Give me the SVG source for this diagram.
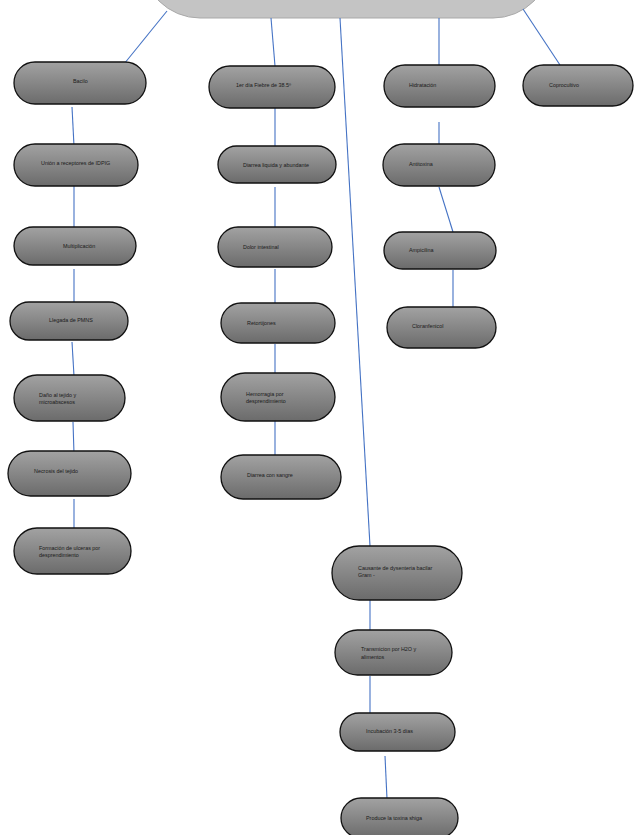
<svg xmlns="http://www.w3.org/2000/svg" width="634" height="835" viewBox="0 0 634 835">
<defs>
<linearGradient id="g" x1="0" y1="0" x2="0" y2="1">
<stop offset="0" stop-color="#a2a2a2"/>
<stop offset="1" stop-color="#6b6b6b"/>
</linearGradient>
<style>
.n{fill:url(#g);stroke:#111;stroke-width:1.3}
.t{font-family:"Liberation Sans",Arial,sans-serif;font-size:5.4px;fill:#1a1a1a}
.c line{stroke:#4472c4;stroke-width:1.1}
</style>
</defs>
<rect width="634" height="835" fill="#fff"/>
<g id="top"><rect x="142" y="-100" width="409" height="118" rx="58" fill="#c4c4c4" stroke="#a9a9a9" stroke-width="1"/></g>
<g class="c" id="connectors">
<line x1="167" y1="11" x2="124" y2="64"/>
<line x1="271" y1="18" x2="275" y2="66"/>
<line x1="340" y1="18" x2="370" y2="546"/>
<line x1="439" y1="18" x2="439" y2="70"/>
<line x1="523" y1="9" x2="560" y2="65"/>
<line x1="72" y1="107" x2="74" y2="146"/>
<line x1="74" y1="186" x2="74" y2="231"/>
<line x1="74" y1="269" x2="74" y2="302"/>
<line x1="72" y1="342" x2="74" y2="376"/>
<line x1="73" y1="422" x2="74" y2="454"/>
<line x1="74" y1="499" x2="74" y2="530"/>
<line x1="275" y1="108" x2="275" y2="147"/>
<line x1="275" y1="187" x2="275" y2="230"/>
<line x1="275" y1="269" x2="275" y2="304"/>
<line x1="275" y1="344" x2="275" y2="375"/>
<line x1="275" y1="421" x2="275" y2="455"/>
<line x1="439" y1="122" x2="439" y2="147"/>
<line x1="439" y1="187" x2="453" y2="232"/>
<line x1="453" y1="270" x2="453" y2="311"/>
<line x1="370" y1="600" x2="370" y2="632"/>
<line x1="370" y1="676" x2="370" y2="714"/>
<line x1="385" y1="756" x2="387" y2="799"/>
</g>
<g id="bacilo"><rect class="n" x="14" y="62" width="132" height="42" rx="21"/><text class="t" x="73" y="83">Bacilo</text></g>
<g id="fiebre"><rect class="n" x="209" y="66" width="126" height="42" rx="21"/><text class="t" x="236" y="87">1er día Fiebre de 38.5º</text></g>
<g id="hidratacion"><rect class="n" x="384" y="65" width="111" height="42" rx="21"/><text class="t" x="409" y="87">Hidratación</text></g>
<g id="coprocultivo"><rect class="n" x="523" y="65" width="110" height="41" rx="20.5"/><text class="t" x="549" y="87">Coprocultivo</text></g>
<g id="union"><rect class="n" x="14" y="144" width="124" height="42" rx="21"/><text class="t" x="41" y="165">Unión a receptores de IDPIG</text></g>
<g id="multiplicacion"><rect class="n" x="14" y="227" width="122" height="38" rx="19"/><text class="t" x="63" y="248">Multiplicación</text></g>
<g id="llegada"><rect class="n" x="10" y="302" width="118" height="38" rx="19"/><text class="t" x="49" y="322">Llegada de PMNS</text></g>
<g id="dano"><rect class="n" x="14" y="375" width="111" height="46" rx="23"/><text class="t" x="39" y="397">Daño al tejido y</text><text class="t" x="39" y="404">microabscesos</text></g>
<g id="necrosis"><rect class="n" x="8" y="451" width="123" height="45" rx="22.5"/><text class="t" x="34" y="473">Necrosis del tejido</text></g>
<g id="formacion"><rect class="n" x="14" y="528" width="117" height="46" rx="23"/><text class="t" x="39" y="550">Formación de ulceras por</text><text class="t" x="39" y="557">desprendimiento</text></g>
<g id="diarrea"><rect class="n" x="218" y="146" width="118" height="37" rx="18.5"/><text class="t" x="243" y="167">Diarrea liquida y abundante</text></g>
<g id="dolor"><rect class="n" x="218" y="227" width="114" height="40" rx="20"/><text class="t" x="243" y="249">Dolor intestinal</text></g>
<g id="retortijones"><rect class="n" x="221" y="303" width="114" height="40" rx="20"/><text class="t" x="247" y="325">Retortijones</text></g>
<g id="hemorragia"><rect class="n" x="221" y="373" width="114" height="48" rx="24"/><text class="t" x="246" y="396">Hemorragia por</text><text class="t" x="246" y="402.5">desprendimiento</text></g>
<g id="sangre"><rect class="n" x="221" y="455" width="120" height="44" rx="22"/><text class="t" x="247" y="477">Diarrea con sangre</text></g>
<g id="antitoxina"><rect class="n" x="383" y="144" width="112" height="42" rx="21"/><text class="t" x="409" y="166">Antitoxina</text></g>
<g id="ampicilina"><rect class="n" x="384" y="232" width="112" height="37" rx="18.5"/><text class="t" x="409" y="252">Ampicilina</text></g>
<g id="cloranfenicol"><rect class="n" x="387" y="307" width="109" height="41" rx="20.5"/><text class="t" x="412" y="328">Cloranfenicol</text></g>
<g id="causante"><rect class="n" x="332" y="546" width="130" height="54" rx="27"/><text class="t" x="358" y="570">Causante de dysenteria bacilar</text><text class="t" x="358" y="577">Gram -</text></g>
<g id="transmicion"><rect class="n" x="335" y="630" width="117" height="45" rx="22.5"/><text class="t" x="361" y="651">Transmicion por H2O y</text><text class="t" x="361" y="659">alimentos</text></g>
<g id="incubacion"><rect class="n" x="340" y="713" width="115" height="38" rx="19"/><text class="t" x="366" y="733">Incubación 3-5 días</text></g>
<g id="produce"><rect class="n" x="341" y="798" width="117" height="40" rx="20"/><text class="t" x="366" y="820">Produce la toxina shiga</text></g>
</svg>
